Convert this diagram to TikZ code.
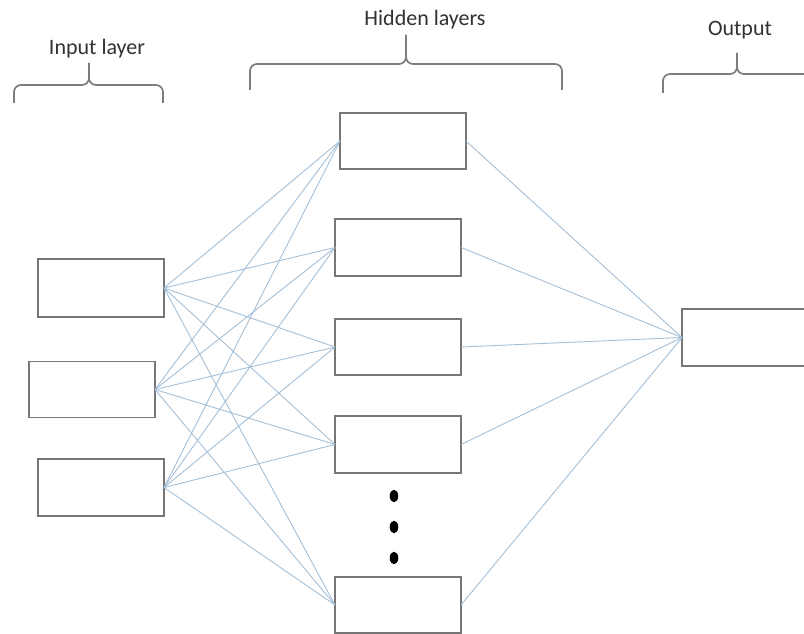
\documentclass[tikz,border=0pt]{standalone}
\usepackage{fontspec}
\setmainfont{Carlito}
\begin{document}
\begin{tikzpicture}[x=1pt,y=-1pt,
  box/.style={draw={rgb,255:red,118;green,118;blue,118}, line width=1.6pt, fill=white, rectangle, inner sep=0pt, outer sep=0pt, minimum width=126pt, minimum height=57pt},
  conn/.style={draw={rgb,255:red,165;green,192;blue,215}, line width=0.9pt},
  bracestyle/.style={draw={rgb,255:red,125;green,125;blue,125}, line width=1.7pt, rounded corners=7pt},
  lbl/.style={text={rgb,255:red,50;green,50;blue,50}, font=\fontsize{22}{26}\selectfont, inner sep=0pt}
]
\useasboundingbox (0,0) rectangle (804,634);
\clip (0,0) rectangle (804,634);
\fill[white] (0,0) rectangle (804,634);

% input boxes
\node[box, minimum width=126pt, minimum height=58pt] (I1) at (101,288) {};
\node[box, minimum width=126pt, minimum height=56pt] (I2) at (92,389.5) {};
\node[box, minimum width=126pt, minimum height=57pt] (I3) at (101,487.5) {};
% hidden boxes
\node[box, minimum height=56pt] (H1) at (403,141) {};
\node[box] (H2) at (398,247.5) {};
\node[box, minimum height=56pt] (H3) at (398,347) {};
\node[box] (H4) at (398,444.5) {};
\node[box, minimum height=56pt] (H5) at (398,605) {};
% output box
\node[box] (O) at (745,337.5) {};

% connectors
\foreach \i in {I1,I2,I3}{
  \foreach \h in {H1,H2,H3,H4,H5}{
    \draw[conn] (\i.east) -- (\h.west);
  }
}
\foreach \h in {H1,H2,H3,H4,H5}{
  \draw[conn] (\h.east) -- (O.west);
}

% dots
\fill (394,496) ellipse (4.3 and 6.3);
\fill (394,527) ellipse (4.3 and 6.3);
\fill (394,558) ellipse (4.3 and 6.3);

% braces
\draw[bracestyle] (14,103) -- (14,85) -- (89,85) -- (89,63);
\draw[bracestyle] (163,103) -- (163,85) -- (89,85) -- (89,63);
\draw[bracestyle] (250,90) -- (250,64) -- (406,64) -- (406,35);
\draw[bracestyle] (562,90) -- (562,64) -- (406,64) -- (406,35);
\draw[bracestyle] (663,93) -- (663,74) -- (737,74) -- (737,53);
\draw[bracestyle] (811,93) -- (811,74) -- (737,74) -- (737,53);

% labels
\node[lbl] (tin) at (97,49) {Input layer};
\node[lbl] (thid) at (425,20) {Hidden layers};
\node[lbl] (tout) at (740,30) {Output};
\end{tikzpicture}
\end{document}
